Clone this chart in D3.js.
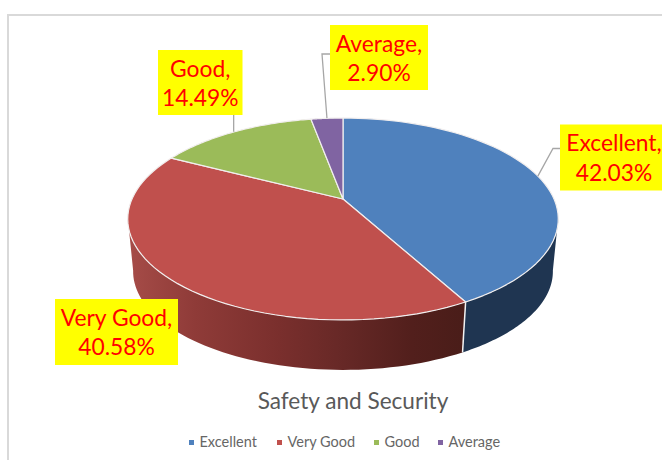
<!DOCTYPE html>
<html>
<head>
<meta charset="utf-8">
<script src="https://cdnjs.cloudflare.com/ajax/libs/d3/7.8.5/d3.min.js"></script>
<style>
html,body{margin:0;padding:0;background:#fff;overflow:hidden}
svg{display:block}
text{font-family:Lato,"Open Sans",sans-serif}
</style>
</head>
<body>
<svg id="chart" width="662" height="460"></svg>
<script>
const categories = ["Excellent", "Very Good", "Good", "Average"];
const values = [42.03, 40.58, 14.49, 2.90];
const labelsPct = ["42.03%", "40.58%", "14.49%", "2.90%"];
const colors = ["#4f81bd", "#c0504d", "#9bbb59", "#8064a2"];
const title = "Safety and Security";

const svg = d3.select("#chart");

// Perspective view of the pie disc
const view = {cx: 343, cy: 199, rx: 211, ry: 97, k: 0.198, depth: 53, shrink: 0.975};
const xs = d3.scaleLinear().domain([-1, 1]).range([view.cx - view.rx, view.cx + view.rx]);
const ys = d3.scaleLinear().domain([-1, 1]).range([view.cy - view.ry, view.cy + view.ry]);
function project(theta, r = 1, bottom = false) {
  const u = r * Math.sin(theta), v = -r * Math.cos(theta);
  const w = 1 - view.k * v;
  const s = bottom ? view.shrink : 1;
  return [
    view.cx + (xs(u / w) - view.cx) * s,
    view.cy + (ys(v / w) - view.cy) * s + (bottom ? view.depth : 0)
  ];
}
const line = d3.line();
const pie = d3.pie().sort(null).value(d => d).startAngle(0).endAngle(2 * Math.PI);
const arcs = pie(values);
const samples = (a, b) => d3.range(0, 61).map(i => a + (b - a) * i / 60);

// frame
svg.append("line").attr("x1", 7).attr("x2", 662).attr("y1", 15).attr("y2", 15)
  .attr("stroke", "#d9d9d9").attr("stroke-width", 2);
svg.append("line").attr("x1", 8).attr("x2", 8).attr("y1", 14).attr("y2", 460)
  .attr("stroke", "#d9d9d9").attr("stroke-width", 2);

// wall shading
const defs = svg.append("defs");
const redGrad = defs.append("linearGradient").attr("id", "wallRed")
  .attr("gradientUnits", "userSpaceOnUse").attr("x1", 128).attr("x2", 462).attr("y1", 0).attr("y2", 0);
[[0, "#a64c48"], [0.2, "#8f3b38"], [0.45, "#7a2f2d"], [0.65, "#662826"], [0.85, "#521f1c"], [1, "#4a1d19"]]
  .forEach(s => redGrad.append("stop").attr("offset", s[0]).attr("stop-color", s[1]));
const wallFill = ["#1f3551", "url(#wallRed)", "#5f7a35", "#4d3c62"];

// side walls
const wallMin = Math.PI * 0.56, wallMax = Math.PI * 1.44;
arcs.forEach((d, i) => {
  const a = Math.max(d.startAngle, wallMin), b = Math.min(d.endAngle, wallMax);
  if (b <= a) return;
  const th = samples(a, b);
  const pts = th.map(t => project(t)).concat(th.slice().reverse().map(t => project(t, 1, true)));
  svg.append("path").attr("d", line(pts) + "Z").attr("fill", wallFill[i]);
});
// seam between the front walls
const seam = arcs[0].endAngle;
svg.append("path").attr("d", line([project(seam), project(seam, 1, true)]))
  .attr("stroke", "#f2f2f2").attr("stroke-width", 1.5).attr("fill", "none");

// top face
arcs.forEach((d, i) => {
  const pts = [project(0, 0)].concat(samples(d.startAngle, d.endAngle).map(t => project(t)));
  svg.append("path").attr("d", line(pts) + "Z")
    .attr("fill", colors[i]).attr("stroke", "#f1eeee").attr("stroke-width", 1.2)
    .attr("stroke-linejoin", "round");
});

// data labels
const labelBoxes = [
  {x: 560, y: 124.5, w: 103, h: 66, elbow: [553, 148.5], end: [560, 148.5]},
  {x: 55, y: 299, w: 123, h: 66},
  {x: 158, y: 50, w: 84.5, h: 65, elbow: null, end: [null, 115]},
  {x: 330, y: 25, w: 98, h: 65, elbow: [322, 54], end: [330, 54]}
];
arcs.forEach((d, i) => {
  const b = labelBoxes[i];
  const mid = (d.startAngle + d.endAngle) / 2;
  const start = project(mid);
  if (b.end) {
    const end = [b.end[0] === null ? start[0] - 1 : b.end[0], b.end[1]];
    const pts = b.elbow ? [start, b.elbow, end] : [[end[0], start[1]], end];
    svg.append("path").attr("d", line(pts)).attr("fill", "none")
      .attr("stroke", "#a6a6a6").attr("stroke-width", 1.3);
  }
  svg.append("rect").attr("x", b.x).attr("y", b.y).attr("width", b.w).attr("height", b.h).attr("fill", "#ffff00");
  const tx = i === 0 ? b.x + 54 : b.x + b.w / 2;
  [categories[i] + ",", labelsPct[i]].forEach((s, j) => {
    svg.append("text").attr("x", tx).attr("y", b.y + 26.5 + j * 29.5)
      .attr("text-anchor", "middle").attr("font-size", 22.8).attr("fill", "#ff0000").text(s);
  });
});

// title
svg.append("text").attr("x", 353).attr("y", 409).attr("text-anchor", "middle")
  .attr("font-size", 22.6).attr("fill", "#595959").text(title);

// legend
const legendX = [189, 277, 374, 438];
categories.forEach((c, i) => {
  svg.append("rect").attr("x", legendX[i]).attr("y", 440).attr("width", 5).attr("height", 5).attr("fill", colors[i]);
  svg.append("text").attr("x", legendX[i] + 10.5).attr("y", 447)
    .attr("font-size", 14.5).attr("fill", "#666666").text(c);
});
</script>
</body>
</html>
